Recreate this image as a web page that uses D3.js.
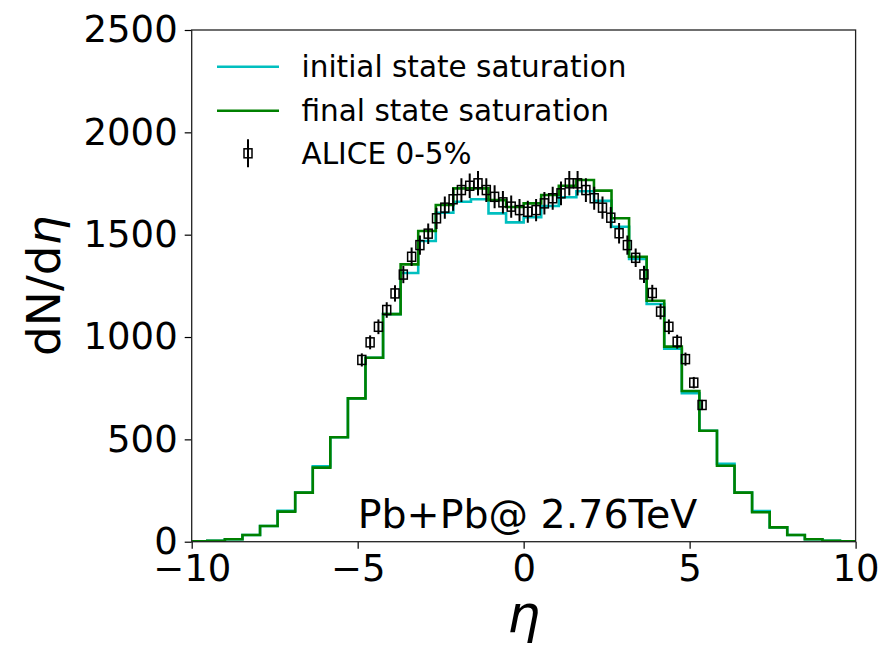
<!DOCTYPE html>
<html>
<head>
<meta charset="utf-8">
<script src="https://cdn.jsdelivr.net/npm/d3@7"></script>
<style>
  body { margin: 0; background: #fff; }
  text { font-family: "DejaVu Sans", sans-serif; fill: #000; }
</style>
</head>
<body>
<div id="chart"></div>
<script>
// histogram bin edges (eta)
const binEdges = [-10.059, -9.529, -9.000, -8.471, -7.941, -7.412, -6.882, -6.353, -5.824, -5.294,
  -4.765, -4.235, -3.706, -3.176, -2.647, -2.118, -1.588, -1.059, -0.529, 0,
  0.529, 1.059, 1.588, 2.118, 2.647, 3.176, 3.706, 4.235, 4.765, 5.294,
  5.824, 6.353, 6.882, 7.412, 7.941, 8.471, 9.000, 9.529, 10.059];

const initialState = [2, 4, 12, 33, 77, 151, 240, 368, 510, 700, 899, 1112, 1313, 1469, 1607, 1661, 1673, 1604, 1560,
  1585, 1640, 1683, 1712, 1665, 1539, 1381, 1161, 943, 725, 542, 380, 240, 150, 70, 33, 12, 4, 2];

const finalState = [2, 4, 12, 33, 77, 147, 240, 362, 510, 700, 899, 1112, 1355, 1518, 1645, 1726, 1726, 1669, 1635,
  1653, 1694, 1739, 1767, 1715, 1580, 1392, 1177, 953, 736, 542, 371, 240, 144, 70, 33, 12, 4, 2];

const aliceEta = [-4.875, -4.625, -4.375, -4.125, -3.875, -3.625, -3.375, -3.125, -2.875, -2.625,
  -2.375, -2.125, -1.875, -1.625, -1.375, -1.125, -0.875, -0.625, -0.375, -0.125,
  0.125, 0.375, 0.625, 0.875, 1.125, 1.375, 1.625, 1.875, 2.125, 2.375, 2.625,
  2.875, 3.125, 3.375, 3.625, 3.875, 4.125, 4.375, 4.625, 4.875, 5.125, 5.375];
const aliceVal = [888, 974, 1050, 1132, 1213, 1305, 1392, 1449, 1505, 1580,
  1632, 1673, 1718, 1739, 1751, 1718, 1685, 1658, 1637, 1620,
  1612, 1620, 1653, 1678, 1702, 1751, 1751, 1718, 1678, 1632, 1583,
  1507, 1449, 1387, 1306, 1215, 1124, 1050, 977, 892, 777, 668];
const aliceErr = [32, 34, 36, 38, 40, 42, 45, 47, 50, 52,
  54, 56, 58, 60, 60, 58, 56, 55, 54, 54,
  54, 54, 55, 56, 58, 60, 60, 58, 56, 54, 52,
  50, 47, 45, 42, 40, 38, 36, 34, 32, 28, 25];

const xTicks = [-10, -5, 0, 5, 10];
const yTicks = [0, 500, 1000, 1500, 2000, 2500];
const seriesNames = ["initial state saturation", "final state saturation", "ALICE 0-5%"];
const annotation = "Pb+Pb@ 2.76TeV";

const width = 883, height = 648;
const margin = {top: 30, right: 27.4, bottom: 106.3, left: 191.7};
const innerW = width - margin.left - margin.right,
      innerH = height - margin.top - margin.bottom;

const svg = d3.select("#chart").append("svg")
  .attr("width", width).attr("height", height);

const x = d3.scaleLinear().domain([-10, 10]).range([0, innerW]);
const y = d3.scaleLinear().domain([0, 2500]).range([innerH, 0]);

svg.append("defs").append("clipPath").attr("id", "clip")
  .append("rect").attr("width", innerW).attr("height", innerH);

const g = svg.append("g").attr("transform", `translate(${margin.left},${margin.top})`);

const stepLine = d3.line()
  .x(d => x(d[0])).y(d => y(d[1]))
  .curve(d3.curveStepAfter);

const stepPoints = vals => binEdges.map((e, i) => [e, vals[Math.min(i, vals.length - 1)]]);

const plot = g.append("g").attr("clip-path", "url(#clip)");

plot.append("path").datum(stepPoints(initialState))
  .attr("d", stepLine).attr("fill", "none")
  .attr("stroke", "#00bfbf").attr("stroke-width", 2.6);

plot.append("path").datum(stepPoints(finalState))
  .attr("d", stepLine).attr("fill", "none")
  .attr("stroke", "#008000").attr("stroke-width", 2.6);

// ALICE points
const pts = aliceEta.map((e, i) => ({eta: e, v: aliceVal[i], err: aliceErr[i]}));
const pg = plot.selectAll(".pt").data(pts).enter().append("g").attr("class", "pt");
pg.append("line")
  .attr("x1", d => x(d.eta)).attr("x2", d => x(d.eta))
  .attr("y1", d => y(d.v - d.err)).attr("y2", d => y(d.v + d.err))
  .attr("stroke", "#000").attr("stroke-width", 2);
pg.append("rect")
  .attr("x", d => x(d.eta) - 4).attr("y", d => y(d.v) - 4.5)
  .attr("width", 8).attr("height", 9)
  .attr("fill", "none").attr("stroke", "#000").attr("stroke-width", 1.5);

// axes
const fmt = d => d < 0 ? "\u2212" + Math.abs(d) : String(d);
const xAxis = g.append("g").attr("transform", `translate(0,${innerH})`)
  .call(d3.axisBottom(x).tickValues(xTicks).tickSize(7).tickPadding(6).tickFormat(fmt));
const yAxis = g.append("g")
  .call(d3.axisLeft(y).tickValues(yTicks).tickSize(7).tickPadding(7).tickFormat(fmt));
[xAxis, yAxis].forEach(a => {
  a.select(".domain").remove();
  a.selectAll(".tick line").attr("stroke", "#000").attr("stroke-width", 1.2);
  a.selectAll(".tick text").style("font-size", "37px").attr("fill", "#000");
});

g.append("rect").attr("width", innerW).attr("height", innerH)
  .attr("fill", "none").attr("stroke", "#222").attr("stroke-width", 1.3);

// labels
svg.append("text")
  .attr("transform", `translate(60,${margin.top + innerH / 2}) rotate(-90)`)
  .attr("text-anchor", "middle").style("font-size", "47px")
  .html('dN/d<tspan font-style="italic">η</tspan>');

svg.append("text").attr("x", margin.left + x(0)).attr("y", 632)
  .attr("text-anchor", "middle").style("font-size", "52px").style("font-style", "italic")
  .text("η");

g.append("text").attr("x", x(-5)).attr("y", 528 - margin.top)
  .attr("text-anchor", "start").style("font-size", "39.5px")
  .text(annotation);

// legend
const leg = svg.append("g");
const legY = [66.7, 110.7, 153.3];
leg.append("line").attr("x1", 217).attr("x2", 279).attr("y1", legY[0]).attr("y2", legY[0])
  .attr("stroke", "#00bfbf").attr("stroke-width", 2.6);
leg.append("line").attr("x1", 217).attr("x2", 279).attr("y1", legY[1]).attr("y2", legY[1])
  .attr("stroke", "#008000").attr("stroke-width", 2.6);
leg.append("line").attr("x1", 248).attr("x2", 248).attr("y1", legY[2] - 14).attr("y2", legY[2] + 14)
  .attr("stroke", "#000").attr("stroke-width", 2);
leg.append("rect").attr("x", 244).attr("y", legY[2] - 4.5).attr("width", 8).attr("height", 9)
  .attr("fill", "none").attr("stroke", "#000").attr("stroke-width", 1.5);
leg.selectAll(".lt").data(seriesNames).enter().append("text")
  .attr("x", 301.5).attr("y", (d, i) => legY[i] + 10.5)
  .style("font-size", "29.5px").text(d => d);
</script>
</body>
</html>
